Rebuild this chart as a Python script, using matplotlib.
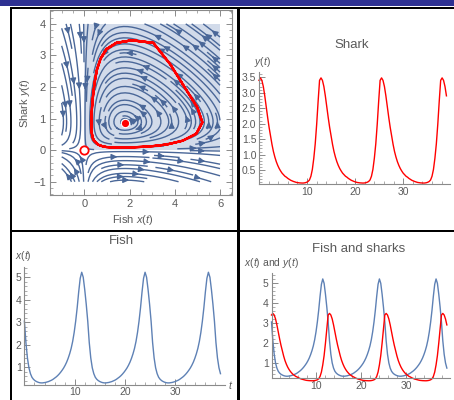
import numpy as np
import matplotlib
matplotlib.use("Agg")
import matplotlib.pyplot as plt
from matplotlib.ticker import MultipleLocator, FixedLocator
from matplotlib.patches import Rectangle

plt.rcParams['font.family'] = ['Liberation Sans', 'DejaVu Sans']
plt.rcParams['mathtext.fontset'] = 'custom'
plt.rcParams['mathtext.rm'] = 'Liberation Sans'
plt.rcParams['mathtext.it'] = 'Liberation Sans:italic'

# ---------------- data ----------------
t_step = 0.3
fish = [
    3.05, 2.10, 1.42, 0.98, 0.72, 0.56, 0.47, 0.41, 0.37, 0.34,
    0.32, 0.31, 0.31, 0.32, 0.33, 0.35, 0.37, 0.40, 0.43, 0.47,
    0.52, 0.57, 0.63, 0.70, 0.78, 0.87, 0.97, 1.09, 1.23, 1.40,
    1.60, 1.84, 2.15, 2.55, 3.05, 3.65, 4.35, 4.95, 5.22, 5.00,
    4.45, 3.80,
    3.05, 2.10, 1.42, 0.98, 0.72, 0.56, 0.47, 0.41, 0.37, 0.34,
    0.32, 0.31, 0.31, 0.32, 0.33, 0.35, 0.37, 0.40, 0.43, 0.47,
    0.52, 0.57, 0.63, 0.70, 0.78, 0.87, 0.97, 1.09, 1.23, 1.40,
    1.60, 1.84, 2.15, 2.55, 3.05, 3.65, 4.35, 4.95, 5.22, 5.00,
    4.45, 3.80,
    3.05, 2.10, 1.42, 0.98, 0.72, 0.56, 0.47, 0.41, 0.37, 0.34,
    0.32, 0.31, 0.31, 0.32, 0.33, 0.35, 0.37, 0.40, 0.43, 0.47,
    0.52, 0.57, 0.63, 0.70, 0.78, 0.87, 0.97, 1.09, 1.23, 1.40,
    1.60, 1.84, 2.15, 2.55, 3.05, 3.65, 4.35, 4.95, 5.22, 5.00,
    4.45, 3.80,
    3.05, 2.10, 1.42, 0.98, 0.72,
]
shark = [
    3.40, 3.48, 3.40, 3.20, 2.90, 2.55, 2.20, 1.88, 1.60, 1.33,
    1.10, 0.92, 0.77, 0.65, 0.55, 0.47, 0.40, 0.35, 0.30, 0.27,
    0.23, 0.20, 0.17, 0.15, 0.13, 0.115, 0.10, 0.092, 0.086, 0.082,
    0.080, 0.082, 0.090, 0.105, 0.13, 0.18, 0.30, 0.52, 0.88, 1.35,
    1.98, 2.72,
    3.40, 3.48, 3.40, 3.20, 2.90, 2.55, 2.20, 1.88, 1.60, 1.33,
    1.10, 0.92, 0.77, 0.65, 0.55, 0.47, 0.40, 0.35, 0.30, 0.27,
    0.23, 0.20, 0.17, 0.15, 0.13, 0.115, 0.10, 0.092, 0.086, 0.082,
    0.080, 0.082, 0.090, 0.105, 0.13, 0.18, 0.30, 0.52, 0.88, 1.35,
    1.98, 2.72,
    3.40, 3.48, 3.40, 3.20, 2.90, 2.55, 2.20, 1.88, 1.60, 1.33,
    1.10, 0.92, 0.77, 0.65, 0.55, 0.47, 0.40, 0.35, 0.30, 0.27,
    0.23, 0.20, 0.17, 0.15, 0.13, 0.115, 0.10, 0.092, 0.086, 0.082,
    0.080, 0.082, 0.090, 0.105, 0.13, 0.18, 0.30, 0.52, 0.88, 1.35,
    1.98, 2.72,
    3.40, 3.48, 3.40, 3.20, 2.90,
]
t = np.arange(len(fish)) * t_step

# Lotka-Volterra vector field coefficients for the stream plot
alpha, beta, gamma, delta = 0.6, 0.67, 0.75, 0.42
equilibrium = (1.8, 0.87)
origin_pt = (0.0, 0.0)

# ---------------- styling ----------------
W, H = 454, 400
fig = plt.figure(figsize=(W / 100, H / 100), dpi=100)
fig.patch.set_facecolor('white')

axis_col = '#8a8a8a'
lab_col = '#5a5a5a'
blue = '#5e81b5'
red = '#ff0000'
stream_col = '#4a6798'
shade_col = '#d2dbea'


def px_axes(left, top, right, bottom):
    return fig.add_axes([left / W, 1 - bottom / H, (right - left) / W, (bottom - top) / H])


def ftext(x, y, s, **kw):
    fig.text(x / W, 1 - y / H, s, **kw)


def mm_axes(ax, xlim, ylim, ymaj, ymin, yfmt):
    ax.set_xlim(xlim)
    ax.set_ylim(ylim)
    ax.patch.set_alpha(0)
    for s in ['top', 'right']:
        ax.spines[s].set_visible(False)
    for s in ['left', 'bottom']:
        ax.spines[s].set_color(axis_col)
        ax.spines[s].set_linewidth(0.8)
    ax.xaxis.set_major_locator(FixedLocator([10, 20, 30]))
    ax.xaxis.set_minor_locator(MultipleLocator(2))
    ax.yaxis.set_major_locator(FixedLocator(ymaj))
    ax.yaxis.set_minor_locator(MultipleLocator(ymin))
    ax.set_yticklabels([yfmt.format(v) for v in ymaj])
    ax.tick_params(which='major', direction='in', length=4, width=0.7,
                   color=axis_col, labelcolor=lab_col, labelsize=7.5, pad=2)
    ax.tick_params(which='minor', direction='in', length=2, width=0.5, color=axis_col)


# ---------------- phase portrait ----------------
axp = px_axes(50, 10, 232, 195)
axp.set_xlim(-1.516, 6.53)
axp.set_ylim(-1.42, 4.44)
axp.add_patch(Rectangle((0, 0), 6, 4, facecolor=shade_col, edgecolor='none', zorder=0))
gx = np.linspace(-1, 6, 141)
gy = np.linspace(-1, 4, 101)
GX, GY = np.meshgrid(gx, gy)
U = GX * (alpha - beta * GY)
V = GY * (delta * GX - gamma)
kw = dict(density=1.25, color=stream_col, linewidth=1.0, arrowsize=0.85, arrowstyle='-|>')
try:
    axp.streamplot(gx, gy, U, V, num_arrows=3, **kw)
except TypeError:
    axp.streamplot(gx, gy, U, V, **kw)
axp.plot(fish, shark, color=red, lw=1.6, zorder=5, solid_capstyle='round')
axp.plot(*equilibrium, 'o', ms=6, mfc=red, mec='white', mew=0.8, zorder=6)
axp.plot(*origin_pt, 'o', ms=6, mfc='white', mec=red, mew=1.3, zorder=6)
for s in axp.spines.values():
    s.set_color(axis_col)
    s.set_linewidth(0.8)
axp.xaxis.set_major_locator(FixedLocator([0, 2, 4, 6]))
axp.xaxis.set_minor_locator(MultipleLocator(0.5))
axp.yaxis.set_major_locator(FixedLocator([-1, 0, 1, 2, 3, 4]))
axp.yaxis.set_minor_locator(MultipleLocator(0.2))
axp.set_yticklabels(['\u22121', '0', '1', '2', '3', '4'])
axp.tick_params(which='both', direction='in', top=True, right=True, color=axis_col)
axp.tick_params(which='major', length=4, width=0.7, labelcolor=lab_col, labelsize=8, pad=3)
axp.tick_params(which='minor', length=2, width=0.5)
ftext(133, 220, r'Fish $x(t)$', ha='center', va='center', color=lab_col, fontsize=8)
ftext(25, 103, r'Shark $y(t)$', ha='center', va='center', color=lab_col, fontsize=8, rotation=90)

# ---------------- shark ----------------
axs = px_axes(259, 71.7, 449.8, 184.3)
mm_axes(axs, (0, 39.7), (0.04, 3.68), [0.5, 1.0, 1.5, 2.0, 2.5, 3.0, 3.5], 0.1, '{:.1f}')
axs.plot(t, shark, color=red, lw=1.0, clip_on=False)
ftext(352, 45, 'Shark', ha='center', va='center', color=lab_col, fontsize=9.5)
ftext(262, 62, r'$y(t)$', ha='center', va='center', color=lab_col, fontsize=7.5)

# ---------------- fish ----------------
axf = px_axes(24.4, 267.3, 225, 384.7)
mm_axes(axf, (0, 39.9), (0.23, 5.44), [1, 2, 3, 4, 5], 0.2, '{:d}')
axf.plot(t, fish, color=blue, lw=1.0, clip_on=False)
ftext(121.7, 240.7, 'Fish', ha='center', va='center', color=lab_col, fontsize=9.5)
ftext(23.5, 256, r'$x(t)$', ha='center', va='center', color=lab_col, fontsize=7.5)
ftext(231, 385, r'$t$', ha='center', va='center', color=lab_col, fontsize=7.5)

# ---------------- fish and sharks ----------------
axc = px_axes(271.5, 273, 450, 378)
mm_axes(axc, (0, 39.7), (0.22, 5.52), [1, 2, 3, 4, 5], 0.2, '{:d}')
axc.plot(t, fish, color=blue, lw=1.0, clip_on=False)
axc.plot(t, shark, color=red, lw=1.0, clip_on=False)
ftext(359, 248.7, 'Fish and sharks', ha='center', va='center', color=lab_col, fontsize=9.5)
ftext(271.3, 263, r'$x(t)$ and $y(t)$', ha='center', va='center', color=lab_col, fontsize=7.5)

# ---------------- slide frame ----------------
ov = fig.add_axes([0, 0, 1, 1], zorder=10)
ov.set_xlim(0, W)
ov.set_ylim(H, 0)
ov.axis('off')
ov.patch.set_alpha(0)
ov.add_patch(Rectangle((0, 0), W, 6, facecolor='#2e3192', edgecolor='none'))
for (x0, y0, w, h) in [(10, 7, W - 10, 2), (10, 7, 2, H - 7), (236.5, 7, 3, H - 7), (10, 229.5, W - 10, 2)]:
    ov.add_patch(Rectangle((x0, y0), w, h, facecolor='black', edgecolor='none'))

fig.savefig('out.png', dpi=100)
